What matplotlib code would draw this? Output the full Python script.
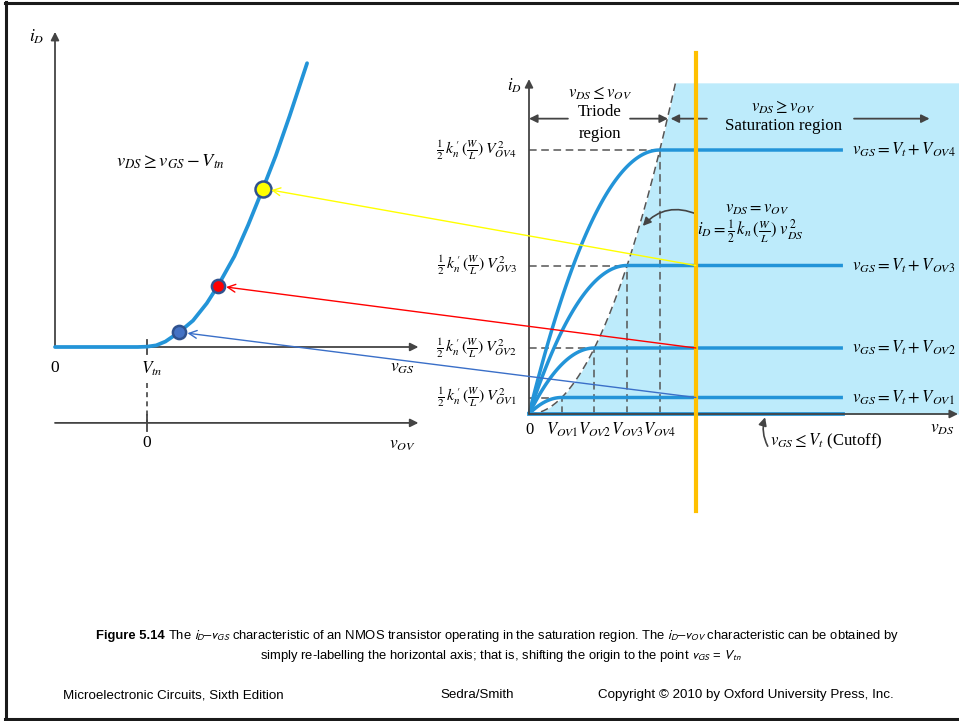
import numpy as np
import matplotlib.pyplot as plt
from matplotlib.patches import ConnectionPatch
from matplotlib.lines import Line2D

plt.rcParams['font.family'] = ['Liberation Serif', 'DejaVu Serif']

W, H = 959, 721

# Saturation levels: v_OV in units of V_OV1, i_D in units of (1/2)k'n(W/L)V_OV1^2
v_ov = [1, 2, 3, 4]
i_sat = [1, 4, 9, 16]
ov_names = ['OV1', 'OV2', 'OV3', 'OV4']
v_ds_end = 9.6       # saturation lines stop here
v_ds_probe = 5.1     # the orange marker line
v_ds_edge = 4.48     # top of the dashed v_DS = v_OV parabola

# Left panel: i_D vs v_GS, v_GS in units of V_tn
vgs_curve = [0, 0.5, 0.9, 1.0, 1.1, 1.2, 1.35, 1.5, 1.65, 1.77, 1.95, 2.1, 2.26, 2.4, 2.55, 2.74]
id_curve = [0, 0, 0, 0.02, 0.1, 0.33, 0.9, 1.6, 2.65, 3.7, 5.5, 7.4, 9.6, 11.6, 14.0, 17.2]
dot_vgs = [1.35, 1.77, 2.26]
dot_id = [0.9, 3.7, 9.6]
dot_fill = ['#4472c4', '#ff0000', '#ffff00']
dot_size = [9.5, 9.5, 11.5]
link_color = ['#3a6fc8', '#ff0000', '#ffff00']

BLUE = '#2394d8'
AX = '#444444'
SHADE = '#bdebfb'
SANS = 9.6
CAP = 9.4

fig = plt.figure(figsize=(W / 100, H / 100), dpi=100)


def px_axes(x0, x1, y_top, y_bot, xlim, ylim):
    ax = fig.add_axes([x0 / W, 1 - y_bot / H, (x1 - x0) / W, (y_bot - y_top) / H])
    ax.set_xlim(xlim)
    ax.set_ylim(ylim)
    ax.axis('off')
    return ax


def arrow(ax, start, end, lw=1.3, color=AX, style='-|>', **kw):
    ax.annotate('', xy=end, xytext=start,
                arrowprops=dict(arrowstyle=style, color=color, lw=lw,
                                shrinkA=0, shrinkB=0, mutation_scale=12, **kw),
                annotation_clip=False)


# ---------------- right panel: i_D vs v_DS ----------------
axr = px_axes(529, 959, 60, 414, (0, 430 / 32.7), (0, 354 / 16.5))

i_top = v_ds_edge ** 2
ii = np.linspace(0, i_top, 200)
axr.fill_betweenx(ii, np.sqrt(ii), 430 / 32.7, color=SHADE, lw=0, clip_on=False)

vv = np.linspace(0, v_ds_edge, 200)
axr.plot(vv, vv ** 2, ls=(0, (5, 3)), color='#555555', lw=1.1, clip_on=False)

for v, lev in zip(v_ov, i_sat):
    axr.plot([0, v], [lev, lev], ls=(0, (5, 3)), color='#555555', lw=1.1, clip_on=False)
    axr.plot([v, v], [0, lev], ls=(0, (5, 3)), color='#555555', lw=1.1, clip_on=False)
    x = np.linspace(0, v, 100)
    y = 2 * v * x - x ** 2
    axr.plot(np.r_[x, v_ds_end], np.r_[y, lev], color=BLUE, lw=2.5,
             solid_capstyle='butt', clip_on=False, zorder=3)
axr.plot([0, v_ds_end], [0, 0], color=BLUE, lw=2.7, clip_on=False, zorder=3)

arrow(axr, (0, 0), (0, 20.3))
arrow(axr, (0, 0), (13.12, 0))

for v, name, lev in zip(v_ov, ov_names, i_sat):
    axr.text(v, -0.97, r'$V_{%s}$' % name, ha='center', va='center', fontsize=12,
             math_fontfamily='stix')
    axr.text(-0.37, lev, r"$\frac{1}{2}\,k_n^{\,\prime}\,(\frac{W}{L})\,V_{%s}^{\,2}$" % name,
             ha='right', va='center', fontsize=11.3, math_fontfamily='stix')
    axr.text(9.88, lev, r'$v_{GS} = V_t + V_{%s}$' % name, ha='left', va='center',
             fontsize=12.2, math_fontfamily='stix')
axr.text(0, -0.97, '0', ha='center', va='center', fontsize=12)
axr.text(12.63, -0.9, r'$v_{DS}$', ha='center', va='center', fontsize=12.5,
         math_fontfamily='stix')
axr.text(-0.45, 19.9, r'$i_D$', ha='center', va='center', fontsize=12,
         math_fontfamily='stix')

axr.text(2.17, 19.45, r'$v_{DS} \leq v_{OV}$', ha='center', va='center', fontsize=12,
         math_fontfamily='stix')
axr.text(2.17, 18.3, 'Triode', ha='center', va='center', fontsize=12)
axr.text(2.17, 16.95, 'region', ha='center', va='center', fontsize=12)
axr.text(7.77, 18.6, r'$v_{DS} \geq v_{OV}$', ha='center', va='center', fontsize=12,
         math_fontfamily='stix')
axr.text(7.77, 17.45, 'Saturation region', ha='center', va='center', fontsize=12.2)
arrow(axr, (1.19, 17.9), (0, 17.9))
arrow(axr, (3.09, 17.9), (4.25, 17.9))
arrow(axr, (5.44, 17.9), (4.33, 17.9))
arrow(axr, (9.94, 17.9), (12.25, 17.9))

axr.text(6.97, 12.4, r'$v_{DS} = v_{OV}$', ha='center', va='center', fontsize=12,
         math_fontfamily='stix')
axr.text(5.14, 11.05, r'$i_D = \frac{1}{2}\,k_n\,(\frac{W}{L})\ v_{DS}^{\,2}$', ha='left',
         va='center', fontsize=12, math_fontfamily='stix')
arrow(axr, (5.14, 12.1), (3.48, 11.4), lw=1.2, connectionstyle='arc3,rad=0.35')

axr.text(7.37, -1.64, r'$v_{GS} \leq V_t$ (Cutoff)', ha='left', va='center', fontsize=12,
         math_fontfamily='stix')
arrow(axr, (7.3, -1.95), (7.22, -0.2), lw=1.2, connectionstyle='arc3,rad=-0.2')

axr.plot([v_ds_probe, v_ds_probe], [-5.9, 21.9], color='#ffc000', lw=3, clip_on=False,
         zorder=6)

# ---------------- left panel: i_D vs v_GS ----------------
axl = px_axes(55, 420, 30, 347, (0, 365 / 92), (0, 317 / 16.5))
arrow(axl, (0, 0), (0, 19.1))
arrow(axl, (0, 0), (3.95, 0))
arrow(axl, (0, -4.6), (3.95, -4.6))
axl.plot([1, 1], [-0.4, 0.4], color=AX, lw=1.3, clip_on=False)
axl.plot([1, 1], [-4.1, -5.1], color=AX, lw=1.3, clip_on=False)
axl.plot([1, 1], [-2.2, -4.6], color=AX, lw=1.2, ls=(0, (3, 2.5)), clip_on=False)

axl.plot(vgs_curve, id_curve, color=BLUE, lw=2.7, clip_on=False, zorder=3,
         solid_capstyle='round')
for x, y, c, s in zip(dot_vgs, dot_id, dot_fill, dot_size):
    axl.plot(x, y, 'o', ms=s, mfc=c, mec='#2f528f', mew=1.8, clip_on=False, zorder=5)

axl.text(-0.2, 18.8, r'$i_D$', ha='center', va='center', fontsize=12.5, math_fontfamily='stix')
axl.text(0, -1.27, '0', ha='center', va='center', fontsize=12.5)
axl.text(1.05, -1.33, r'$V_{tn}$', ha='center', va='center', fontsize=12.5,
         math_fontfamily='stix')
axl.text(3.78, -1.27, r'$v_{GS}$', ha='center', va='center', fontsize=12.5,
         math_fontfamily='stix')
axl.text(1, -5.8, '0', ha='center', va='center', fontsize=12.5)
axl.text(3.78, -5.94, r'$v_{OV}$', ha='center', va='center', fontsize=12.5,
         math_fontfamily='stix')
axl.text(1.25, 11.2, r'$v_{DS} \geq v_{GS} - V_{tn}$', ha='center', va='center',
         fontsize=13.3, math_fontfamily='stix')

# links from the saturation levels to the dots on the transfer curve
for k in range(3):
    con = ConnectionPatch(xyA=(v_ds_probe, i_sat[k]), coordsA=axr.transData,
                          xyB=(dot_vgs[k], dot_id[k]), coordsB=axl.transData,
                          arrowstyle='->', color=link_color[k], lw=1.0,
                          mutation_scale=14, shrinkA=0, shrinkB=6)
    fig.add_artist(con)

# ---------------- caption and footer ----------------
cap_y1 = 1 - 636 / H
cap_y2 = 1 - 656 / H
t1 = fig.text(96 / W, cap_y1, 'Figure 5.14', fontsize=CAP, weight='bold',
              family='Liberation Sans', va='center', ha='left')
fig.canvas.draw()
bb = t1.get_window_extent()
fig.text((bb.x1 + 3) / W, cap_y1,
         r'The $i_D$–$v_{GS}$ characteristic of an NMOS transistor operating in the saturation '
         r'region. The $i_D$–$v_{OV}$ characteristic can be obtained by',
         fontsize=CAP, family='Liberation Sans', va='center', ha='left',
         math_fontfamily='stixsans')
fig.text(501 / W, cap_y2,
         r'simply re-labelling the horizontal axis; that is, shifting the origin to the point '
         r'$v_{GS}$ = $V_{tn}$',
         fontsize=CAP, family='Liberation Sans', va='center', ha='center',
         math_fontfamily='stixsans')

foot_y = 1 - 695 / H
fig.text(63 / W, foot_y, 'Microelectronic Circuits, Sixth Edition', fontsize=SANS,
         family='Liberation Sans', va='center')
fig.text(440 / W, foot_y, 'Sedra/Smith', fontsize=SANS, family='Liberation Sans', va='center')
fig.text(598 / W, foot_y, 'Copyright © 2010 by Oxford University Press, Inc.', fontsize=SANS,
         family='Liberation Sans', va='center')

# slide border
for xs, ys in [([6, 6], [2, 720]), ([5, 959], [3, 3]), ([5, 959], [718.5, 718.5])]:
    fig.add_artist(Line2D(np.array(xs) / W, 1 - np.array(ys) / H, color='#1a1a1a', lw=2.2))

fig.savefig('out.png', dpi=100)
